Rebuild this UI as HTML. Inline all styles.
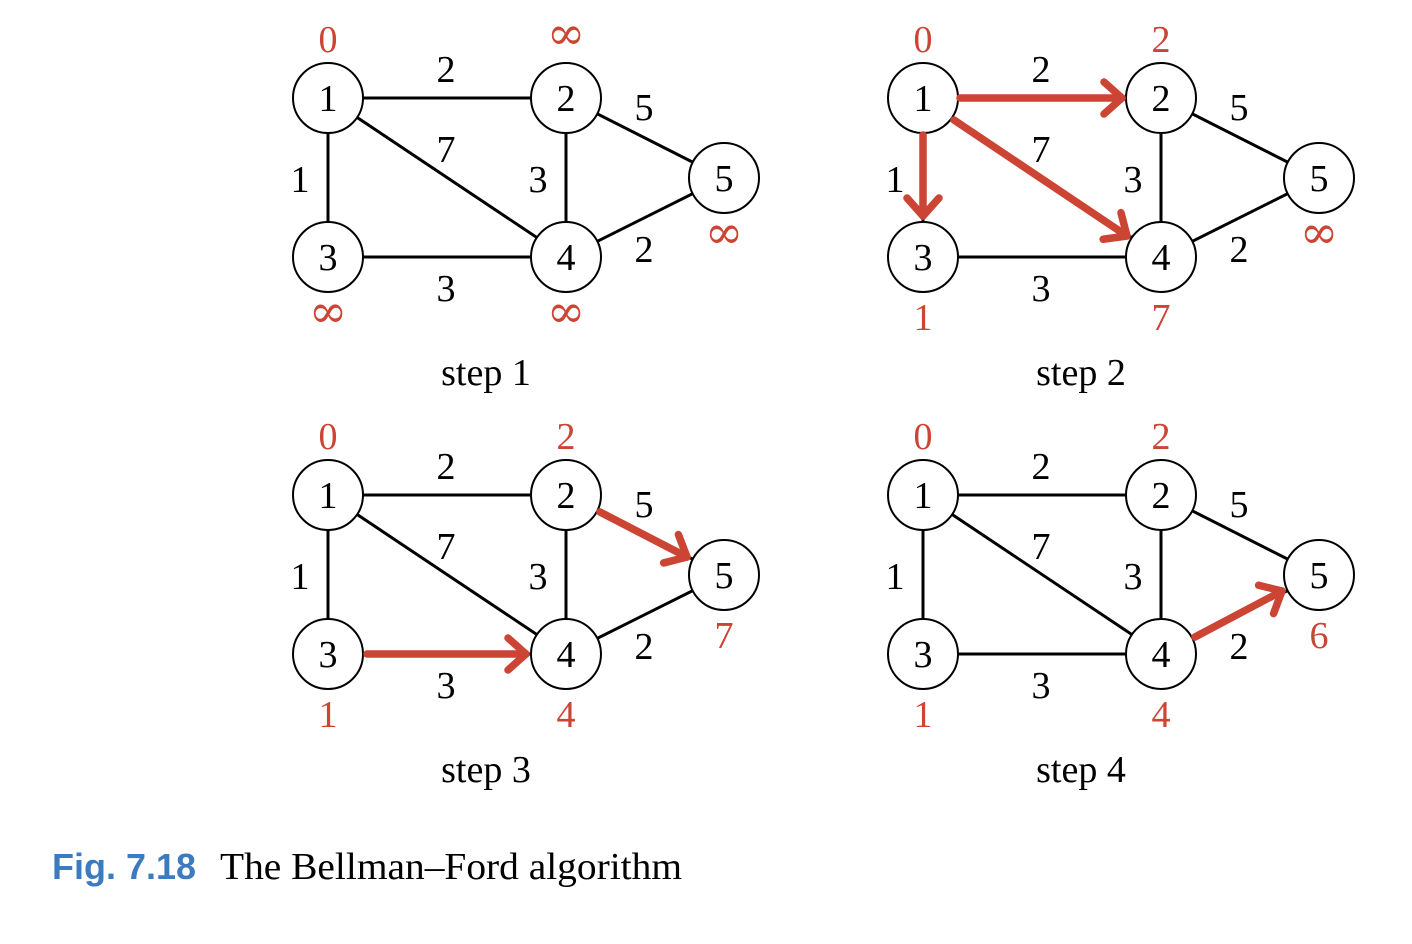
<!DOCTYPE html>
<html><head><meta charset="utf-8"><style>
html,body{margin:0;padding:0;background:#fff;}
svg{display:block;}
.n{font-family:"Liberation Serif",serif;font-size:38px;text-anchor:middle;fill:#000;}
.r{font-family:"Liberation Serif",serif;font-size:38px;text-anchor:middle;fill:#cc4433;}
.i{font-family:"DejaVu Serif",serif;font-size:46px;text-anchor:middle;fill:#cc4433;}
</style></head><body>
<svg width="1412" height="944" viewBox="0 0 1412 944" xmlns="http://www.w3.org/2000/svg">
<defs>
<marker id="ah" markerUnits="userSpaceOnUse" orient="auto" viewBox="-24 -20 28 40" refX="0" refY="0" markerWidth="28" markerHeight="40">
<path d="M-18,-16 L0,0 L-18,16" fill="none" stroke="#cc4433" stroke-width="7.5" stroke-linecap="round" stroke-linejoin="round"/>
</marker>
<g id="g">
<g stroke="#000" stroke-width="3">
<line x1="328" y1="98" x2="566" y2="98"/>
<line x1="328" y1="98" x2="328" y2="257"/>
<line x1="328" y1="98" x2="566" y2="257"/>
<line x1="566" y1="98" x2="566" y2="257"/>
<line x1="566" y1="98" x2="724" y2="178"/>
<line x1="328" y1="257" x2="566" y2="257"/>
<line x1="566" y1="257" x2="724" y2="178"/>
</g>
<g fill="#fff" stroke="#000" stroke-width="2">
<circle cx="328" cy="98" r="35"/><circle cx="566" cy="98" r="35"/><circle cx="724" cy="178" r="35"/>
<circle cx="328" cy="257" r="35"/><circle cx="566" cy="257" r="35"/>
</g>
<text class="n" x="328" y="111">1</text><text class="n" x="566" y="111">2</text><text class="n" x="724" y="191">5</text>
<text class="n" x="328" y="270">3</text><text class="n" x="566" y="270">4</text>
<text class="n" x="446" y="82">2</text><text class="n" x="446" y="162">7</text><text class="n" x="300" y="192">1</text>
<text class="n" x="538" y="192">3</text><text class="n" x="644" y="120">5</text><text class="n" x="446" y="301">3</text>
<text class="n" x="644" y="262">2</text>
</g>
</defs>
<use href="#g"/>
<use href="#g" transform="translate(595,0)"/>
<use href="#g" transform="translate(0,397)"/>
<use href="#g" transform="translate(595,397)"/>

<g stroke="#cc4433" stroke-width="7.5" stroke-linecap="round" fill="none" marker-end="url(#ah)">
<line x1="960" y1="98" x2="1122" y2="98"/>
<line x1="923" y1="135" x2="923" y2="216"/>
<line x1="954" y1="120" x2="1127" y2="236"/>
<line x1="367" y1="654" x2="526" y2="654"/>
<line x1="600" y1="512" x2="687" y2="557"/>
<line x1="1195" y1="637" x2="1282" y2="591"/>
</g>

<text class="r" x="328" y="52">0</text><text class="i" x="566" y="49">∞</text>
<text class="i" x="724" y="248">∞</text><text class="i" x="328" y="327">∞</text><text class="i" x="566" y="327">∞</text>
<text class="r" x="923" y="52">0</text><text class="r" x="1161" y="52">2</text>
<text class="i" x="1319" y="248">∞</text><text class="r" x="923" y="330">1</text><text class="r" x="1161" y="330">7</text>
<text class="r" x="328" y="449">0</text><text class="r" x="566" y="449">2</text>
<text class="r" x="724" y="648">7</text><text class="r" x="328" y="727">1</text><text class="r" x="566" y="727">4</text>
<text class="r" x="923" y="449">0</text><text class="r" x="1161" y="449">2</text>
<text class="r" x="1319" y="648">6</text><text class="r" x="923" y="727">1</text><text class="r" x="1161" y="727">4</text>

<text class="n" x="486" y="385">step 1</text>
<text class="n" x="1081" y="385">step 2</text>
<text class="n" x="486" y="782">step 3</text>
<text class="n" x="1081" y="782">step 4</text>

<text x="52" y="879" font-family="'Liberation Sans',sans-serif" font-weight="bold" font-size="36" fill="#3c7bbf" textLength="144" lengthAdjust="spacingAndGlyphs">Fig. 7.18</text>
<text x="220" y="879" font-family="'Liberation Serif',serif" font-size="38" fill="#000" textLength="462" lengthAdjust="spacingAndGlyphs">The Bellman–Ford algorithm</text>
</svg>
</body></html>
